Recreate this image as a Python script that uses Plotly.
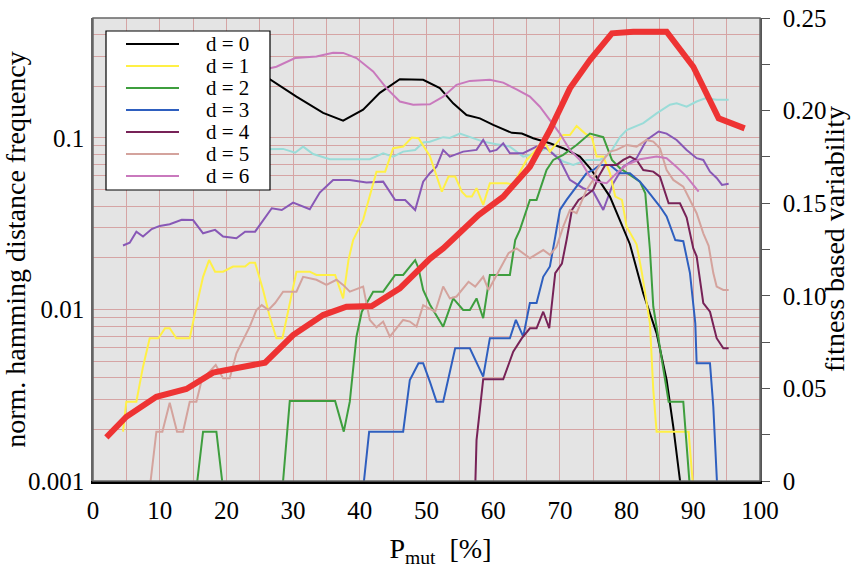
import plotly.graph_objects as go

# mutation probability sweep [%] and per-distance hamming frequencies
FLOOR = 0.0009  # below the shown decade range: curve drops to zero

d0_x = [25, 26.5, 30.5, 34.5, 37.5, 40.5, 43, 46, 49.5, 50.5, 52, 54, 56, 58, 60, 62.8, 64.3, 66,
        68.5, 70.5, 73, 74.5, 76, 77.5, 79, 80.5, 82.5, 84.5, 86, 87, 88, 88.3]
d0_y = [0.225, 0.220, 0.174, 0.140, 0.126, 0.146, 0.183, 0.220, 0.218, 0.208, 0.195, 0.159, 0.136,
        0.130, 0.119, 0.107, 0.106, 0.0995, 0.093, 0.0871, 0.0778, 0.0666, 0.0556, 0.0455, 0.0333,
        0.024, 0.0124, 0.00726, 0.00388, 0.00207, 0.00101, FLOOR]

d1_x = [4.5, 5, 6.5, 7.5, 8.5, 9.8, 10.8, 11.5, 12.5, 14.5, 15.5, 16.5, 17.4, 18.3, 19.5, 21, 22.8,
        23.5, 24.3, 25.5, 26.5, 27.5, 28.4, 29.5, 30.5, 32.5, 33.5, 36.3, 37.5, 38.3, 39, 40.5, 41.8,
        42.5, 43.8, 45, 46.5, 47.8, 48.8, 50.5, 52.3, 53.3, 54.3, 55.3, 56, 56.8, 57.5, 58.5, 59.5,
        62, 63, 65, 66, 67.5, 68.5, 69.5, 70.5, 71.5, 72.5, 73.8, 74.8, 75.5, 76.5, 77.5, 78.3, 79.3,
        80, 81.5, 82.3, 83.5, 84, 84.5, 86.5, 89.3, 89.8, 90.0]
d1_y = [0.00194, 0.0029, 0.0029, 0.00464, 0.0068, 0.0068, 0.00777, 0.00777, 0.0068, 0.0068, 0.0104,
        0.0155, 0.0194, 0.0166, 0.0166, 0.0178, 0.0178, 0.0187, 0.0187, 0.013, 0.00908, 0.0068,
        0.0068, 0.0109, 0.0166, 0.0166, 0.0159, 0.0159, 0.0116, 0.0194, 0.0254, 0.0333, 0.052,
        0.0636, 0.0636, 0.0871, 0.089, 0.1005, 0.0995, 0.0785, 0.0486, 0.0595, 0.0595, 0.0486,
        0.0455, 0.0455, 0.0509, 0.0407, 0.0544, 0.0544, 0.0536, 0.0744, 0.0814, 0.0973, 0.0832,
        0.093, 0.104, 0.104, 0.1175, 0.106, 0.101, 0.0778, 0.0778, 0.0623, 0.0455, 0.0435, 0.0304,
        0.024, 0.0163, 0.0083, 0.0034, 0.00194, 0.00194, 0.00194, 0.00111, FLOOR]

d2_x = [15.5, 16.5, 18.5, 19.5, 28.4, 29.5, 36.3, 37.6, 38.5, 39.5, 40.3, 42, 43.5, 45.3, 46.5, 48.3,
        48.8, 49.5, 50.5, 52.5, 54, 55.5, 56.5, 57.5, 58.5, 59.5, 62.5, 63.3, 64, 65.5, 66.5, 68, 69,
        70.5, 72.5, 74.5, 76.5, 77.8, 79, 80.5, 82, 82.8, 83.5, 84, 85, 86.3, 88.5, 89.5]
d2_y = [FLOOR, 0.00194, 0.00194, FLOOR, FLOOR, 0.00293, 0.00293, 0.00194, 0.0029, 0.00694, 0.0097,
        0.0127, 0.0127, 0.0159, 0.0159, 0.0194, 0.0174, 0.013, 0.0107, 0.00794, 0.0116, 0.00993,
        0.00993, 0.0116, 0.00889, 0.0159, 0.0159, 0.0254, 0.0291, 0.0435, 0.0435, 0.065, 0.0744,
        0.0796, 0.091, 0.106, 0.101, 0.0744, 0.0666, 0.0608, 0.0556, 0.0476, 0.0222, 0.0104,
        0.00607, 0.0029, 0.0029, FLOOR]

d3_x = [40.5, 41.4, 46.5, 47.5, 48.8, 49.5, 50.5, 51.5, 52.5, 54.3, 56.5, 58.5, 59.5, 62.5, 63.4,
        64.5, 65.5, 66.5, 67.5, 68.5, 69.3, 70, 71, 72.5, 74, 75, 76, 77.5, 79, 80.5, 82, 83, 85, 86,
        87.3, 88.5, 89.5, 90.3, 90.5, 92.5, 93, 93.6]
d3_y = [FLOOR, 0.00194, 0.00194, 0.00388, 0.00486, 0.00486, 0.0038, 0.0029, 0.0029, 0.00594, 0.00594,
        0.00406, 0.0068, 0.0068, 0.00869, 0.00694, 0.0109, 0.0109, 0.0155, 0.0178, 0.0265, 0.038,
        0.0435, 0.052, 0.0623, 0.065, 0.0696, 0.0696, 0.0623, 0.0623, 0.0556, 0.0499, 0.0398,
        0.0349, 0.0254, 0.025, 0.0163, 0.0083, 0.00486, 0.00486, 0.00271, FLOOR]

d4_x = [57.3, 57.5, 58.5, 61.5, 63, 64.3, 65.5, 66.5, 67.5, 68.4, 69.3, 70.3, 71, 71.8, 72.8, 74, 75,
        75.8, 76.8, 78.5, 79.5, 80.5, 81.5, 82.5, 84, 85, 86.3, 88, 89, 90, 90.5, 91.5, 92.5, 93.5,
        94.5, 95.3]
d4_y = [FLOOR, 0.00173, 0.00392, 0.00392, 0.00567, 0.0068, 0.00777, 0.00777, 0.0097, 0.00777, 0.0163,
        0.0185, 0.0254, 0.038, 0.0435, 0.0465, 0.0499, 0.0595, 0.0696, 0.0696, 0.0744, 0.0778,
        0.0744, 0.065, 0.0636, 0.0595, 0.0416, 0.0416, 0.0343, 0.0227, 0.0204, 0.0109, 0.0097,
        0.0068, 0.00594, 0.00594]

d5_x = [8.5, 9.5, 10.4, 11.5, 12.6, 13.5, 14.5, 15.5, 16.3, 18.4, 19.5, 20.5, 21.5, 22.6, 23.5, 24.5,
        25.3, 26.3, 27.3, 28.5, 30.5, 31.5, 33.5, 35, 36.5, 37.5, 38.5, 40.5, 41.5, 42.5, 43.5, 44.5,
        46.5, 47.5, 48.5, 49.5, 50.5, 51.3, 52.5, 53.5, 54.5, 56.3, 57.3, 58.5, 59.3, 61, 62.3, 63.5,
        65.5, 67.5, 68.5, 69.5, 70.5, 71.5, 72.5, 74, 75, 75.5, 76.5, 77.5, 78.5, 80, 81.5, 83, 84,
        85, 86, 87, 88.5, 89.5, 90.5, 91.5, 92.3, 93, 93.5, 94.5, 95.3]
d5_y = [FLOOR, 0.00194, 0.00194, 0.00286, 0.00194, 0.00194, 0.0029, 0.0029, 0.00388, 0.00475,
        0.00397, 0.00397, 0.00555, 0.0068, 0.00794, 0.00993, 0.0106, 0.00993, 0.0109, 0.0127,
        0.0127, 0.0155, 0.0149, 0.0139, 0.0149, 0.0139, 0.0127, 0.0136, 0.00869, 0.00787, 0.0085,
        0.00694, 0.00869, 0.0085, 0.00794, 0.0106, 0.0101, 0.0097, 0.0136, 0.0116, 0.0119, 0.0145,
        0.0136, 0.0155, 0.013, 0.017, 0.0213, 0.0227, 0.0199, 0.0222, 0.0208, 0.0232, 0.0304, 0.038,
        0.0364, 0.0499, 0.0569, 0.065, 0.0744, 0.0832, 0.0851, 0.091, 0.089, 0.0973, 0.0951, 0.0871,
        0.065, 0.0569, 0.052, 0.0435, 0.0364, 0.0278, 0.0235, 0.0163, 0.0136, 0.013, 0.013]

d6_x = [24, 26.5, 27.5, 30.3, 33.5, 36, 37.5, 39.5, 42, 44, 46, 48, 50.5, 52.5, 54.5, 56.5, 59.5,
        61.5, 63.5, 65.5, 67, 68.5, 70, 71.5, 73, 74.5, 75.5, 77, 78.5, 80, 82, 84.5, 86, 87.5, 89,
        90.8]
d6_y = [0.25, 0.255, 0.26, 0.292, 0.298, 0.314, 0.313, 0.292, 0.244, 0.195, 0.163, 0.156, 0.157,
        0.174, 0.204, 0.215, 0.218, 0.21, 0.192, 0.174, 0.152, 0.127, 0.106, 0.0851, 0.0744, 0.0595,
        0.0556, 0.0544, 0.0623, 0.0696, 0.0751, 0.0778, 0.0762, 0.0677, 0.0595, 0.0486]

d7_x = [24, 26.5, 28.5, 30.3, 31.5, 33, 35.5, 38.5, 41.5, 43.5, 45, 46.5, 48.3, 49.5, 50.5, 52.5,
        53.5, 55, 56.5, 58.5, 60.5, 62.5, 64.5, 66.5, 68, 70.5, 72, 74, 76, 77.5, 79, 80, 82.5, 84.5,
        86.5, 87.5, 89, 90.5, 91.8, 93.5, 95.3]
d7_y = [0.086, 0.0863, 0.0863, 0.082, 0.089, 0.0805, 0.0751, 0.0751, 0.0751, 0.0814, 0.0778, 0.0832,
        0.0851, 0.094, 0.0951, 0.101, 0.1, 0.106, 0.101, 0.0951, 0.0919, 0.089, 0.0778, 0.0814,
        0.0871, 0.0728, 0.0696, 0.0744, 0.0744, 0.0814, 0.101, 0.111, 0.122, 0.139, 0.156, 0.159,
        0.152, 0.163, 0.170, 0.167, 0.167]

d8_x = [4.5, 5.5, 6.5, 7.5, 8.8, 10, 11.5, 13.3, 15, 16.5, 18.3, 19.5, 21.5, 22.8, 24.3, 25.5, 26.8,
        28.3, 30, 32.5, 34, 36, 38.5, 41, 43.5, 45.3, 46.8, 48.3, 49.5, 50.5, 51.5, 52.5, 53.5, 55.5,
        57.5, 58.5, 59.5, 60.5, 61.5, 62.5, 64.5, 66.5, 68, 70, 71.5, 73.5, 75, 76.5, 78, 79.5, 81.5,
        83, 84.8, 86, 87.5, 89, 90.5, 91.5, 92.5, 93.5, 94.3, 95.3]
d8_y = [0.0236, 0.0245, 0.0284, 0.0266, 0.0294, 0.0307, 0.0314, 0.0333, 0.0332, 0.0278, 0.0291,
        0.0266, 0.026, 0.0284, 0.0284, 0.0333, 0.0389, 0.038, 0.042, 0.0384, 0.048, 0.0569, 0.0569,
        0.055, 0.0556, 0.0435, 0.0435, 0.038, 0.0556, 0.0623, 0.068, 0.0851, 0.0778, 0.0832, 0.0851,
        0.0973, 0.0832, 0.0851, 0.093, 0.0814, 0.0814, 0.089, 0.0871, 0.0744, 0.0569, 0.0509, 0.0486,
        0.038, 0.0544, 0.068, 0.0762, 0.0973, 0.109, 0.106, 0.0973, 0.0851, 0.0762, 0.0744, 0.0636,
        0.0584, 0.0532, 0.054]

# fitness based variability (right axis)
fv_x = [2, 5, 9.5, 14, 18, 22, 25.8, 30, 34.5, 38, 41.8, 46, 50.5, 52.5, 57.8, 61.5, 65.5, 68.5,
        71.5, 74.5, 77.8, 81, 86, 90, 93.8, 97.7]
fv_y = [0.0236, 0.0347, 0.0455, 0.0497, 0.0585, 0.0612, 0.0639, 0.0788, 0.0896, 0.0941, 0.0945,
        0.104, 0.120, 0.1256, 0.1436, 0.1535, 0.1697, 0.1895, 0.212, 0.2273, 0.2417, 0.2426, 0.2426,
        0.2237, 0.1958, 0.1904]

series = [
    ("d = 0", d0_x, d0_y, "#000000", True),
    ("d = 1", d1_x, d1_y, "#fff045", True),
    ("d = 2", d2_x, d2_y, "#3e9e3e", True),
    ("d = 3", d3_x, d3_y, "#2e5fbf", True),
    ("d = 4", d4_x, d4_y, "#772257", True),
    ("d = 5", d5_x, d5_y, "#d4a39d", True),
    ("d = 6", d6_x, d6_y, "#c979bd", True),
    ("d = 7", d7_x, d7_y, "#9adcd8", False),
    ("d = 8", d8_x, d8_y, "#8858b6", False),
]

x_ticks = list(range(0, 101, 10))
y_ticks = [0.001, 0.01, 0.1]
y_ticktext = ["0.001", "0.01", "0.1"]
y2_ticks = [0, 0.05, 0.10, 0.15, 0.20, 0.25]
y2_ticktext = ["0", "0.05", "0.10", "0.15", "0.20", "0.25"]

FONT = "Liberation Serif"
GRID = "#d5a4a4"
TICKFONT = dict(family=FONT, size=25, color="black")
TITLEFONT = dict(family=FONT, size=28, color="black")

# plot area in pixels (figure 861 x 576)
L, R, T, B = 93, 760, 18, 481
W, H = 861, 576


def px_x(p):
    return (p - L) / (R - L)


def px_y(p):
    return 1 - (p - T) / (B - T)


fig = go.Figure()
# unlabelled distances first so the labelled curves sit on top
for name, xs, ys, col, _ in series[7:] + series[:7]:
    fig.add_trace(go.Scatter(x=xs, y=ys, mode="lines", name=name, showlegend=False,
                             line=dict(color=col, width=2)))

fig.add_trace(go.Scatter(x=fv_x, y=fv_y, mode="lines", yaxis="y2", showlegend=False,
                         name="fitness based variability",
                         line=dict(color="#ee3333", width=6)))

minor_y = [k * 10.0 ** e for e in (-3, -2, -1) for k in range(2, 10) if k * 10.0 ** e <= 0.5]

# legend box: white panel with a short line sample and label per labelled distance
shapes = [dict(type="rect", xref="paper", yref="paper", x0=px_x(106), x1=px_x(270),
               y0=px_y(190), y1=px_y(31), fillcolor="white",
               line=dict(color="black", width=1.2), layer="above")]
annotations = []
labelled = [s for s in series if s[4]]
for i, (name, _, _, col, _) in enumerate(labelled):
    yy = px_y(44 + 22 * i)
    shapes.append(dict(type="line", xref="paper", yref="paper", x0=px_x(126), x1=px_x(179),
                       y0=yy, y1=yy, line=dict(color=col, width=2), layer="above"))
    annotations.append(dict(xref="paper", yref="paper", x=px_x(204), y=yy, text=name,
                            showarrow=False, xanchor="left", yanchor="middle",
                            font=dict(family=FONT, size=21, color="black")))

shapes.append(dict(type="rect", xref="paper", yref="paper", x0=0, x1=1, y0=0, y1=1,
                   line=dict(color="#666666", width=1.5), layer="above"))

# right-hand axis caption
annotations.append(dict(xref="paper", yref="paper", x=px_x(834), y=px_y(239),
                        text="fitness based variability", textangle=-90, showarrow=False,
                        xanchor="center", yanchor="middle", font=TITLEFONT))

fig.update_layout(
    width=W, height=H,
    margin=dict(l=L, r=W - R, t=T, b=H - B, autoexpand=False),
    paper_bgcolor="white", plot_bgcolor="#e4e4e4",
    font=dict(family=FONT, size=25, color="black"),
    showlegend=False,
    xaxis=dict(range=[0, 100], tickvals=x_ticks, showgrid=True, gridcolor=GRID, gridwidth=1,
               minor=dict(dtick=5, showgrid=True, gridcolor=GRID, gridwidth=1),
               zeroline=False, showline=True, linecolor="black", linewidth=2.5,
               ticks="", ticklabelstandoff=5, tickfont=TICKFONT, automargin=False,
               title=dict(text="&nbsp;&nbsp;&nbsp;&nbsp;P<sub>mut</sub>&nbsp; [%]",
                          font=TITLEFONT, standoff=16)),
    yaxis=dict(type="log", range=[-3, -0.301], tickvals=y_ticks, ticktext=y_ticktext,
               showgrid=True, gridcolor=GRID, gridwidth=1,
               minor=dict(tickvals=minor_y, showgrid=True, gridcolor=GRID, gridwidth=1),
               zeroline=False, showline=True, linecolor="#666666", linewidth=1.5, ticks="",
               ticklabelstandoff=2, tickfont=TICKFONT, automargin=False,
               title=dict(text="norm. hamming distance frequency", font=TITLEFONT, standoff=4)),
    yaxis2=dict(overlaying="y", side="right", range=[0, 0.25], tickvals=y2_ticks,
                ticktext=y2_ticktext, showgrid=False, zeroline=False, showline=True,
                linecolor="#555555", linewidth=1.5, ticks="outside", ticklen=8,
                tickcolor="#555555", tickfont=TICKFONT, automargin=False,
                ticklabelstandoff=8,
                minor=dict(dtick=0.025, ticks="outside", ticklen=8, tickcolor="#555555")),
    shapes=shapes,
    annotations=annotations,
)

fig.write_html("out.html")
